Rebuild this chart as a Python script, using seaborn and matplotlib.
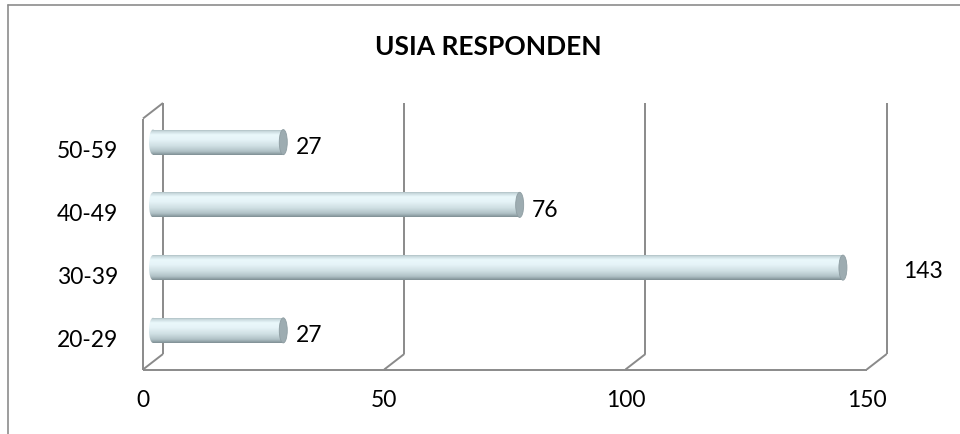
import numpy as np
import pandas as pd
import matplotlib
matplotlib.use("Agg")
import matplotlib.pyplot as plt
import seaborn as sns
from matplotlib.patches import Ellipse
from matplotlib.colors import LinearSegmentedColormap
from matplotlib.transforms import blended_transform_factory
from matplotlib.lines import Line2D

# ---- data ----
categories = ["50-59", "40-49", "30-39", "20-29"]
counts = [27, 76, 143, 27]
x_ticks = [0, 50, 100, 150]
x_max = 150
title = "USIA RESPONDEN"

sns.set_theme(style="white")
plt.rcParams["font.family"] = ["Lato", "DejaVu Sans"]

W, H = 960, 434
DPI = 100
fig = plt.figure(figsize=(W / DPI, H / DPI), dpi=DPI)
fig.patch.set_facecolor("white")

def px2pt(p):
    return p * 72.0 / DPI

# front plane in pixels
fx0, fx1, fy0, fy1 = 143.0, 866.7, 118.5, 369.5
bdx, bdy = 20.0, 15.5      # depth offset of back wall
mdx, mdy = 10.0, 7.75      # depth offset of bars (middle)

def rect(x0, x1, ytop, ybot):
    return [x0 / W, 1 - ybot / H, (x1 - x0) / W, (ybot - ytop) / H]

wall_col = "#8a8a8a"
wall_lw = 1.4

# ---- frame axes (front plane) ----
ax = fig.add_axes(rect(fx0, fx1, fy0, fy1))
ax.set_facecolor("none")
ax.set_xlim(0, x_max)
ax.set_ylim(len(categories) - 0.5, -0.5)
for s in ax.spines.values():
    s.set_visible(False)
ax.set_xticks(x_ticks)
ax.set_xticklabels([str(t) for t in x_ticks])
ax.set_yticks(range(len(categories)))
ax.set_yticklabels(categories)
ax.tick_params(axis="x", length=0, pad=15, labelsize=16.5, colors="black")
ax.tick_params(axis="y", length=0, pad=18, labelsize=16.5, colors="black")
ax.grid(False)

scale = (fx1 - fx0) / x_max
dx_u = bdx / scale
dy_a = bdy / (fy1 - fy0)
bl = blended_transform_factory(ax.transData, ax.transAxes)

def wline(xs, ys):
    ax.add_line(Line2D(xs, ys, transform=bl, color=wall_col, lw=wall_lw,
                       clip_on=False, zorder=1, solid_capstyle="butt"))

# back wall gridlines with floor feet
for t in x_ticks:
    wline([t + dx_u, t + dx_u], [dy_a, 1 + dy_a])
    wline([t, t + dx_u], [0, dy_a])
# floor front edge
wline([0, x_max], [0, 0])
# left wall front edge + top diagonal
wline([0, 0], [0, 1])
wline([0, dx_u], [1, 1 + dy_a])

# ---- bars axes (middle depth) ----
axb = fig.add_axes(rect(fx0 + mdx, fx1 + mdx, fy0 - mdy, fy1 - mdy))
df = pd.DataFrame({"age": categories, "count": counts})
sns.barplot(data=df, y="age", x="count", order=categories, orient="h",
            width=0.4, color="#dcecf0", ax=axb)
axb.set_facecolor("none")

cyl = LinearSegmentedColormap.from_list("cyl", [
    (0.00, "#95a6ab"),
    (0.08, "#c6d7db"),
    (0.22, "#eaf8fb"),
    (0.40, "#e6f4f8"),
    (0.65, "#cfdfe3"),
    (0.86, "#b0c1c6"),
    (1.00, "#7e8e93"),
])
grad = np.linspace(0, 1, 256).reshape(-1, 1)
capw = 8.0 / scale

for p in list(axb.patches):
    x0, w, y, h = p.get_x(), p.get_width(), p.get_y(), p.get_height()
    p.set_facecolor("none")
    p.set_edgecolor("none")
    im = axb.imshow(grad, cmap=cyl, aspect="auto", origin="upper",
                    extent=(x0, x0 + w, y + h, y), interpolation="bilinear",
                    zorder=2)
    im.set_clip_path(p)
    ell = Ellipse((x0, y + h / 2), capw, h, transform=axb.transData)
    im2 = axb.imshow(grad, cmap=cyl, aspect="auto", origin="upper",
                     extent=(x0 - capw / 2, x0 + capw / 2, y + h, y),
                     interpolation="bilinear", zorder=2)
    im2.set_clip_path(ell)
    im2.set_clip_box(fig.bbox)
    axb.add_patch(Ellipse((x0 + w, y + h / 2), capw, h, facecolor="#9dacb1",
                          edgecolor="#8e9da2", lw=0.6, zorder=3))

axb.set_xlim(0, x_max)
axb.set_ylim(len(categories) - 0.5, -0.5)
axb.axis("off")

# ---- value labels ----
fig.canvas.draw()
renderer = fig.canvas.get_renderer()
back_wall_px = fx1 + bdx
for i, v in enumerate(counts):
    t = axb.annotate(str(v), xy=(v, i), xytext=(px2pt(12.5), -px2pt(12)),
                     textcoords="offset points", ha="left", va="baseline",
                     fontsize=16.5, color="black", zorder=5)
    bb = t.get_window_extent(renderer)
    if bb.x1 > back_wall_px:
        t.xy = (x_max, i)
        t.set_position((px2pt(26), -px2pt(10)))

# ---- title ----
fig.text(488 / W, 1 - 55 / H, title, ha="center", va="baseline",
         fontsize=19, fontweight="bold", color="black")

# ---- outer border (cropped on right/bottom) ----
bx, by = 8.3 / W, 1 - 4.7 / H
fig.add_artist(Line2D([bx, bx], [0, by], transform=fig.transFigure,
                      color="#8c8c8c", lw=1.2))
fig.add_artist(Line2D([bx, 1], [by, by], transform=fig.transFigure,
                      color="#8c8c8c", lw=1.2))

fig.savefig("out.png", dpi=DPI, facecolor="white")
